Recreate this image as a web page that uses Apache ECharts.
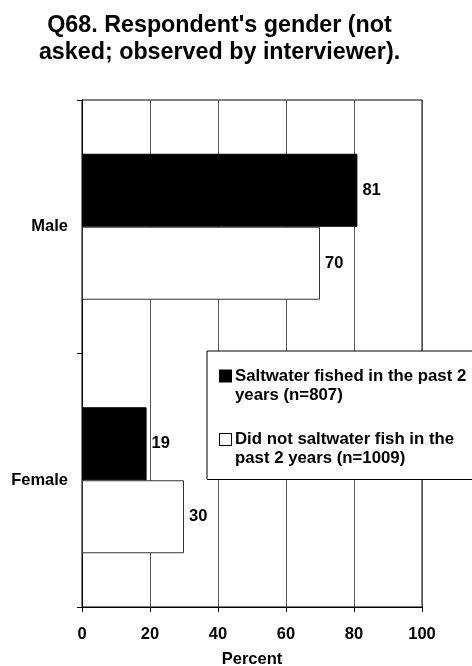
<!DOCTYPE html>
<html>
<head>
<meta charset="utf-8">
<script src="https://cdn.jsdelivr.net/npm/echarts@6/dist/echarts.min.js"></script>
<style>
html,body{margin:0;padding:0;background:#fff;overflow:hidden;width:472px;height:666px;}
#chart{width:530px;height:666px;}
</style>
</head>
<body>
<div id="chart"></div>
<script>
const titleText = "Q68. Respondent's gender (not\nasked; observed by interviewer).";
const categories = ['Male', 'Female'];
const seriesNames = ['Saltwater fished in the past 2 years (n=807)', 'Did not saltwater fish in the past 2 years (n=1009)'];
const legendLines = [['Saltwater fished in the past 2', 'years (n=807)'], ['Did not saltwater fish in the', 'past 2 years (n=1009)']];
const fishedValues = [81, 19];
const notFishedValues = [70, 30];
const xTicks = [0, 20, 40, 60, 80, 100];
const axisName = 'Percent';

const FONT = 'Liberation Sans, Arial, Helvetica, sans-serif';
const chart = echarts.init(document.getElementById('chart'), null, {renderer: 'canvas'});

const labelStyle = {show: true, position: 'right', distance: 5, color: '#000', fontSize: 16.5, fontWeight: 'bold', fontFamily: FONT};

chart.setOption({
  animation: false,
  backgroundColor: '#fff',
  title: {
    text: titleText,
    left: 214.5,
    top: 7,
    textAlign: 'center',
    textStyle: {fontSize: 23.3, fontWeight: 'bold', color: '#000', fontFamily: FONT, lineHeight: 27}
  },
  grid: {
    left: 82, right: 108, top: 100, bottom: 59,
    show: true, borderColor: '#000', borderWidth: 1, backgroundColor: 'transparent',
    containLabel: false, outerBoundsMode: 'none'
  },
  legend: {
    orient: 'vertical',
    left: 207, top: 351,
    padding: [16.5, 20, 12.5, 8],
    itemGap: 27.5,
    itemWidth: 0, itemHeight: 0,
    icon: 'none',
    selectedMode: false,
    backgroundColor: '#fff',
    borderColor: '#000',
    borderWidth: 1,
    data: seriesNames,
    formatter: function (name) {
      const i = seriesNames.indexOf(name);
      const l = legendLines[i];
      return '{m' + i + '|}{t|' + l[0] + '}\n{s|}{t|' + l[1] + '}';
    },
    textStyle: {
      fontSize: 16.8, fontWeight: 'bold', color: '#000', fontFamily: FONT,
      rich: {
        m0: {width: 11, height: 11, backgroundColor: '#000', borderColor: '#000', borderWidth: 1},
        m1: {width: 11, height: 11, backgroundColor: '#fff', borderColor: '#000', borderWidth: 1},
        s: {width: 11, height: 11},
        t: {fontSize: 16.8, fontWeight: 'bold', color: '#000', fontFamily: FONT, lineHeight: 19, padding: [0, 0, 0, 4]}
      }
    }
  },
  xAxis: {
    type: 'value',
    min: xTicks[0], max: xTicks[xTicks.length - 1], interval: 20,
    axisLine: {show: true, lineStyle: {color: '#000', width: 1}},
    axisTick: {show: true, length: 5, lineStyle: {color: '#000'}},
    splitLine: {show: true, lineStyle: {color: '#555', width: 1}},
    axisLabel: {fontSize: 16.5, fontWeight: 'bold', color: '#000', fontFamily: FONT, margin: 19},
    name: axisName,
    nameLocation: 'middle',
    nameGap: 44,
    nameTextStyle: {fontSize: 16.5, fontWeight: 'bold', color: '#000', fontFamily: FONT}
  },
  yAxis: {
    type: 'category',
    data: categories,
    inverse: true,
    axisLine: {show: true, lineStyle: {color: '#000', width: 1}},
    axisTick: {show: true, length: 5, lineStyle: {color: '#000'}},
    splitLine: {show: false},
    axisLabel: {fontSize: 16.5, fontWeight: 'bold', color: '#000', fontFamily: FONT, margin: 14}
  },
  series: [
    {
      name: seriesNames[0], type: 'bar', data: fishedValues,
      barWidth: 73, barGap: '0%',
      itemStyle: {color: '#000', borderColor: '#000', borderWidth: 1},
      label: labelStyle
    },
    {
      name: seriesNames[1], type: 'bar', data: notFishedValues,
      barWidth: 73, barGap: '0%',
      itemStyle: {color: '#fff', borderColor: '#333', borderWidth: 1},
      label: labelStyle
    }
  ]
});
</script>
</body>
</html>
